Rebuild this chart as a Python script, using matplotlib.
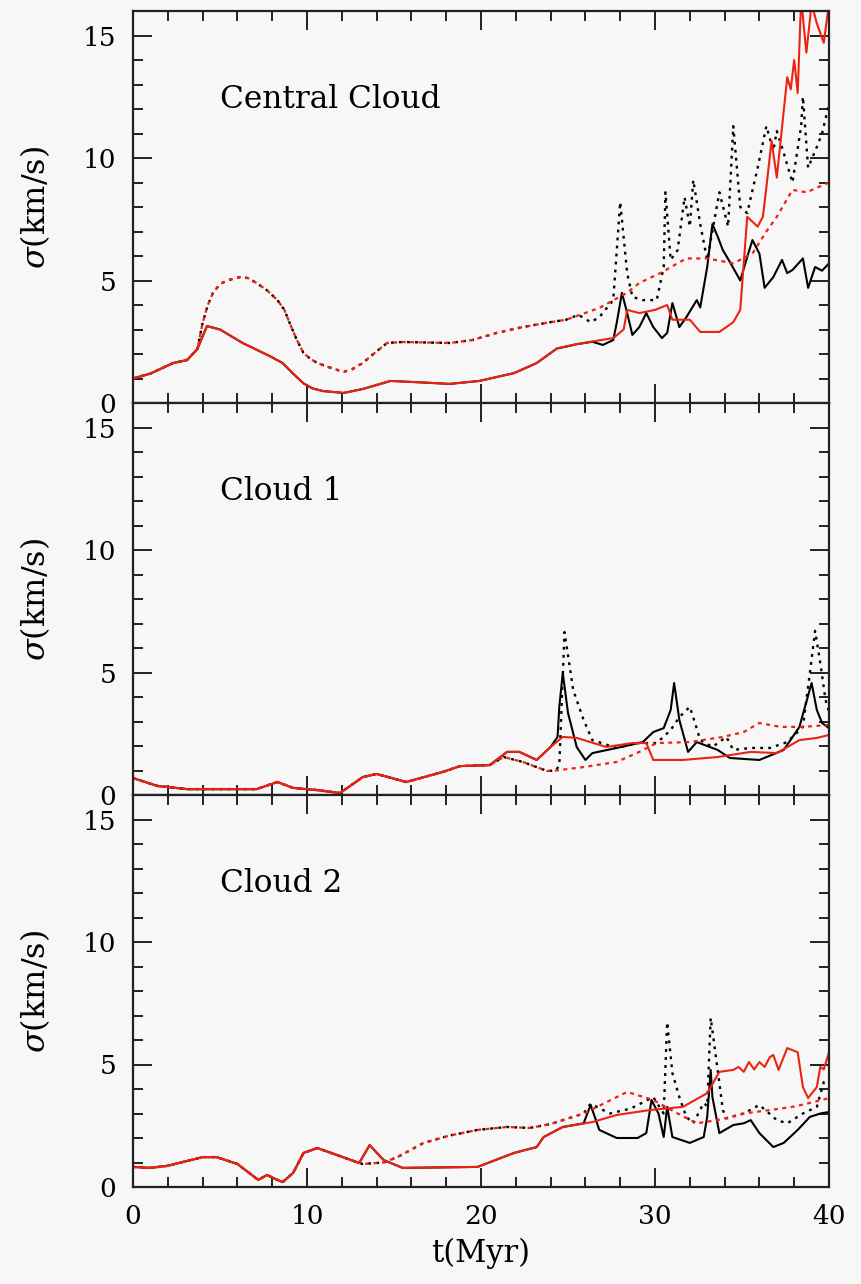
import numpy as np
import matplotlib
matplotlib.use("Agg")
import matplotlib.pyplot as plt
from matplotlib.ticker import MultipleLocator

plt.rcParams['font.family'] = ['DejaVu Serif']
plt.rcParams['mathtext.fontset'] = 'dejavuserif'

BG = '#f7f7f7'
RED = '#ee2211'

# ---- Central Cloud ----
t_c_rs = [0, 0.5, 1.0, 2.3, 3.1, 3.7, 4.25, 5.0, 6.3, 7.9, 8.6, 9.2, 9.8, 10.3, 10.9, 12.1, 13.2, 14.8,
          16.3, 18.2, 19.9, 21.9, 23.2, 24.0, 24.4, 25.5, 26.3, 27.6, 28.2, 28.4, 29.1, 30.0, 30.7,
          31.0, 32.0, 32.6, 33.7, 34.5, 34.9, 35.3, 35.9, 36.2, 36.4, 36.7, 37.0, 37.6, 37.8, 38.0,
          38.2, 38.4, 38.7, 39.0, 39.3, 39.7, 40.0]
s_c_rs = [1.0, 1.1, 1.2, 1.63, 1.75, 2.2, 3.14, 3.0, 2.45, 1.9, 1.63, 1.2, 0.8, 0.6, 0.49, 0.41, 0.57, 0.9,
          0.85, 0.78, 0.9, 1.22, 1.63, 2.04, 2.24, 2.4, 2.5, 2.65, 3.0, 3.8, 3.67, 3.8, 4.0,
          3.4, 3.4, 2.9, 2.9, 3.3, 3.8, 7.6, 7.2, 7.6, 8.8, 10.7, 9.2, 13.3, 12.8, 14.0,
          12.65, 16.5, 14.3, 16.3, 15.5, 14.7, 16.3]
t_c_rd = [0, 1.0, 2.3, 3.1, 3.7, 4.0, 4.3, 4.6, 5.0, 5.4, 6.15, 6.6, 7.1, 7.7, 8.3, 8.7, 9.0, 9.4, 9.8,
          10.2, 10.6, 11.3, 12.1, 12.6, 13.2, 13.9, 14.6, 15.5, 18.2, 19.5, 20.9, 22.4, 24.0, 24.9,
          26.8, 28.4, 29.1, 30.3, 31.8, 33.0, 34.5, 35.6, 36.4, 37.0, 37.9, 38.7, 40.0]
s_c_rd = [1.0, 1.2, 1.63, 1.75, 2.2, 3.27, 4.0, 4.5, 4.85, 5.0, 5.14, 5.1, 4.9, 4.6, 4.2, 3.8, 3.27, 2.6, 2.04,
          1.8, 1.63, 1.45, 1.27, 1.38, 1.63, 2.05, 2.45, 2.49, 2.45, 2.57, 2.86, 3.1, 3.3, 3.4,
          3.88, 4.5, 4.9, 5.3, 5.9, 5.9, 5.7, 6.1, 7.0, 7.6, 8.7, 8.6, 9.0]
t_c_bs = [24.5, 25.5, 26.4, 27.0, 27.6, 27.8, 28.1, 28.4, 28.7, 29.1, 29.5, 29.9, 30.4, 30.7, 31.0, 31.4,
          31.8, 32.4, 32.6, 33.0, 33.3, 33.6, 33.9, 34.3, 34.9, 35.3, 35.6, 36.0, 36.3, 36.8, 37.3,
          37.6, 37.9, 38.5, 38.8, 39.2, 39.6, 40.0]
s_c_bs = [2.24, 2.4, 2.5, 2.37, 2.57, 3.27, 4.5, 3.67, 2.78, 3.1, 3.67, 3.1, 2.65, 2.86, 4.08, 3.1,
          3.5, 4.2, 3.9, 5.55, 7.3, 6.8, 6.24, 5.76, 5.0, 5.96, 6.65, 6.1, 4.7, 5.14, 5.84,
          5.3, 5.43, 5.9, 4.7, 5.55, 5.4, 5.7]
t_c_bd = [25.6, 26.3, 26.8, 27.6, 28.0, 28.4, 28.7, 29.3, 30.1, 30.5, 30.6, 30.9, 31.3, 31.7, 32.0,
          32.2, 32.6, 33.0, 33.7, 34.2, 34.5, 34.9, 35.3, 35.9, 36.4, 36.8, 37.0, 37.4, 37.9, 38.4,
          38.5, 38.8, 39.3, 39.6, 40.0]
s_c_bd = [3.6, 3.3, 3.5, 4.2, 8.2, 5.3, 4.33, 4.2, 4.2, 5.55, 8.6, 5.84, 6.24, 8.4, 7.2,
          9.1, 7.3, 5.84, 8.6, 7.2, 11.3, 8.0, 7.75, 9.6, 11.3, 10.3, 11.1, 10.2, 9.0, 11.3,
          12.5, 9.6, 10.45, 11.0, 12.2]

# ---- Cloud 1 ----
t_1_rs = [0, 1.4, 3.1, 7.1, 8.3, 9.2, 10.6, 11.9, 13.2, 14.0, 15.7, 17.8, 18.8, 20.5, 21.5, 22.2, 23.2,
          24.0, 24.7, 25.5, 27.2, 28.7, 29.5, 29.9, 31.6, 33.6, 35.5, 37.0, 38.3, 39.3, 40.0]
s_1_rs = [0.69, 0.37, 0.24, 0.24, 0.53, 0.29, 0.2, 0.08, 0.73, 0.86, 0.53, 0.94, 1.18, 1.22, 1.76, 1.76, 1.43,
          1.96, 2.37, 2.33, 1.96, 2.12, 2.12, 1.43, 1.43, 1.55, 1.76, 1.71, 2.24, 2.33, 2.45]
t_1_rd = [21.3, 22.4, 23.8, 24.3, 25.9, 27.8, 29.1, 30.1, 32.0, 33.9, 35.1, 36.0, 37.2, 38.5, 40.0]
s_1_rd = [1.55, 1.35, 0.98, 1.0, 1.14, 1.35, 1.76, 2.12, 2.16, 2.37, 2.57, 2.94, 2.78, 2.78, 2.86]
t_1_bs = [24.4, 24.5, 24.7, 25.0, 25.5, 26.0, 26.4, 27.8, 29.3, 29.9, 30.5, 30.9, 31.1, 31.4, 31.9, 32.4,
          33.6, 34.3, 36.0, 37.4, 38.3, 39.0, 39.3, 39.6, 40.0]
s_1_bs = [2.37, 3.6, 4.98, 3.35, 1.96, 1.43, 1.71, 1.92, 2.16, 2.57, 2.73, 3.47, 4.57, 3.06, 1.76, 2.16,
          1.84, 1.51, 1.43, 1.84, 2.78, 4.57, 3.47, 2.94, 2.73]
t_1_bd = [24.5, 24.8, 25.3, 25.9, 26.4, 27.8, 29.0, 30.1, 30.9, 31.4, 32.0, 32.3, 32.6, 33.3, 34.1, 34.5,
          35.5, 36.6, 37.6, 38.5, 38.9, 39.2, 39.5, 39.8, 40.0]
s_1_bd = [1.22, 6.65, 4.28, 3.06, 2.24, 1.92, 2.12, 2.12, 2.65, 3.18, 3.6, 2.94, 2.24, 1.96, 2.37, 1.84,
          1.92, 1.92, 2.16, 2.78, 4.98, 6.7, 5.39, 3.88, 3.4]

# ---- Cloud 2 ----
t_2_rs = [0, 1.0, 1.95, 4.0, 4.8, 6.0, 7.2, 7.7, 8.3, 8.6, 9.2, 9.8, 10.6, 11.7, 13.0, 13.6, 14.4, 15.5,
          19.8, 21.9, 23.2, 23.6, 24.7, 26.4, 27.8, 29.7, 31.6, 33.0, 33.7, 34.5, 34.8, 35.1, 35.4,
          35.7, 36.0, 36.3, 36.6, 36.8, 37.1, 37.6, 38.2, 38.5, 38.8, 39.3, 39.5, 39.7, 40.0]
s_2_rs = [0.82, 0.78, 0.86, 1.22, 1.22, 0.94, 0.29, 0.49, 0.29, 0.2, 0.57, 1.39, 1.59, 1.31, 0.98, 1.71, 1.1, 0.78,
          0.82, 1.39, 1.63, 2.04, 2.45, 2.65, 2.94, 3.14, 3.27, 3.83, 4.7, 4.78, 4.9, 4.7, 5.1,
          4.8, 5.1, 4.9, 5.3, 5.39, 4.78, 5.67, 5.5, 4.08, 3.63, 4.08, 4.9, 4.8, 5.5]
t_2_rd = [13.2, 14.4, 15.2, 16.7, 18.2, 19.8, 21.5, 22.8, 24.0, 25.9, 28.4, 29.9, 31.3, 32.4, 33.6, 35.1,
          36.6, 37.9, 38.9, 40.0]
s_2_rd = [0.94, 1.0, 1.22, 1.8, 2.1, 2.33, 2.45, 2.41, 2.57, 3.0, 3.88, 3.55, 3.0, 2.6, 2.73, 3.0,
          3.14, 3.27, 3.43, 3.63]
t_2_bs = [25.9, 26.3, 26.8, 27.8, 29.0, 29.5, 29.8, 30.2, 30.5, 30.7, 31.0, 32.0, 32.8, 33.0, 33.2, 33.3,
          33.7, 34.5, 35.1, 35.5, 36.0, 36.8, 37.4, 38.2, 38.9, 39.5, 40.0]
s_2_bs = [2.6, 3.35, 2.33, 2.0, 2.0, 2.2, 3.55, 3.0, 2.04, 3.27, 2.04, 1.8, 2.04, 2.86, 4.78, 3.67,
          2.2, 2.53, 2.6, 2.73, 2.2, 1.63, 1.8, 2.33, 2.86, 3.0, 3.06]
t_2_bd = [26.3, 27.4, 28.6, 29.9, 30.5, 30.7, 31.0, 31.4, 31.8, 32.2, 32.8, 33.0, 33.2, 33.6, 33.9, 34.1,
          35.1, 36.0, 37.0, 37.6, 38.5, 39.3, 39.7, 40.0]
s_2_bd = [3.4, 3.0, 3.2, 3.67, 3.0, 6.73, 4.65, 3.67, 2.86, 2.6, 3.43, 3.3, 6.9, 4.78, 3.14, 2.8,
          3.0, 3.35, 2.73, 2.6, 3.0, 3.27, 4.28, 4.3]

names = ["Central Cloud", "Cloud 1", "Cloud 2"]


def join(t_base, s_base, t_tail, s_tail):
    """early part of a curve is shared with another one: keep it up to where the tail starts"""
    t_base = np.asarray(t_base)
    s_base = np.asarray(s_base)
    keep = t_base < t_tail[0]
    return (np.concatenate([t_base[keep], t_tail]),
            np.concatenate([s_base[keep], s_tail]))


panels = []
# Central: dotted curves share the start of the red dotted one, solid the red solid one
panels.append(dict(
    rs=(t_c_rs, s_c_rs), rd=(t_c_rd, s_c_rd),
    bs=join(t_c_rs, s_c_rs, t_c_bs, s_c_bs), bd=join(t_c_rd, s_c_rd, t_c_bd, s_c_bd)))
rd1 = join(t_1_rs, s_1_rs, t_1_rd, s_1_rd)
panels.append(dict(
    rs=(t_1_rs, s_1_rs), rd=rd1,
    bs=join(t_1_rs, s_1_rs, t_1_bs, s_1_bs), bd=join(rd1[0], rd1[1], t_1_bd, s_1_bd)))
rd2 = join(t_2_rs, s_2_rs, t_2_rd, s_2_rd)
panels.append(dict(
    rs=(t_2_rs, s_2_rs), rd=rd2,
    bs=join(t_2_rs, s_2_rs, t_2_bs, s_2_bs), bd=join(rd2[0], rd2[1], t_2_bd, s_2_bd)))

fig = plt.figure(figsize=(8.62, 12.84), dpi=100, facecolor=BG)
left, width = 133 / 862, 696 / 862
h = 392 / 1284
bottom0 = 1 - 1187 / 1284

for i, (p, name) in enumerate(zip(panels, names)):
    ax = fig.add_axes([left, bottom0 + (2 - i) * h, width, h], facecolor=BG)
    ax.plot(*p['bs'], color='black', lw=1.5)
    ax.plot(*p['bd'], color='black', lw=1.7, dashes=(1.2, 2.2))
    ax.plot(*p['rs'], color=RED, lw=1.5)
    ax.plot(*p['rd'], color=RED, lw=1.6, dashes=(1.8, 2.0))

    ax.set_xlim(0, 40)
    ax.set_ylim(0, 16)
    ax.xaxis.set_major_locator(MultipleLocator(10))
    ax.xaxis.set_minor_locator(MultipleLocator(2))
    ax.yaxis.set_major_locator(MultipleLocator(5))
    ax.yaxis.set_minor_locator(MultipleLocator(1))
    ax.tick_params(which='both', direction='in', top=True, right=True, width=1.4,
                   labelsize=19, color='#222222')
    ax.tick_params(which='major', length=14, pad=12)
    ax.tick_params(which='minor', length=7)
    for sp in ax.spines.values():
        sp.set_linewidth(1.6)
        sp.set_color('#222222')
    if i < 2:
        ax.tick_params(labelbottom=False)
    else:
        ax.set_xlabel("t(Myr)", fontsize=22)
        ax.xaxis.set_label_coords(0.5, -0.13)

    ax.set_ylabel(r"$\sigma$(km/s)", fontsize=23)
    ax.yaxis.set_label_coords(-0.116, 0.5)
    ax.text(5.0, 12.4, name, fontsize=22.5, va='center', ha='left')

fig.savefig("out.png", dpi=100, facecolor=BG)
